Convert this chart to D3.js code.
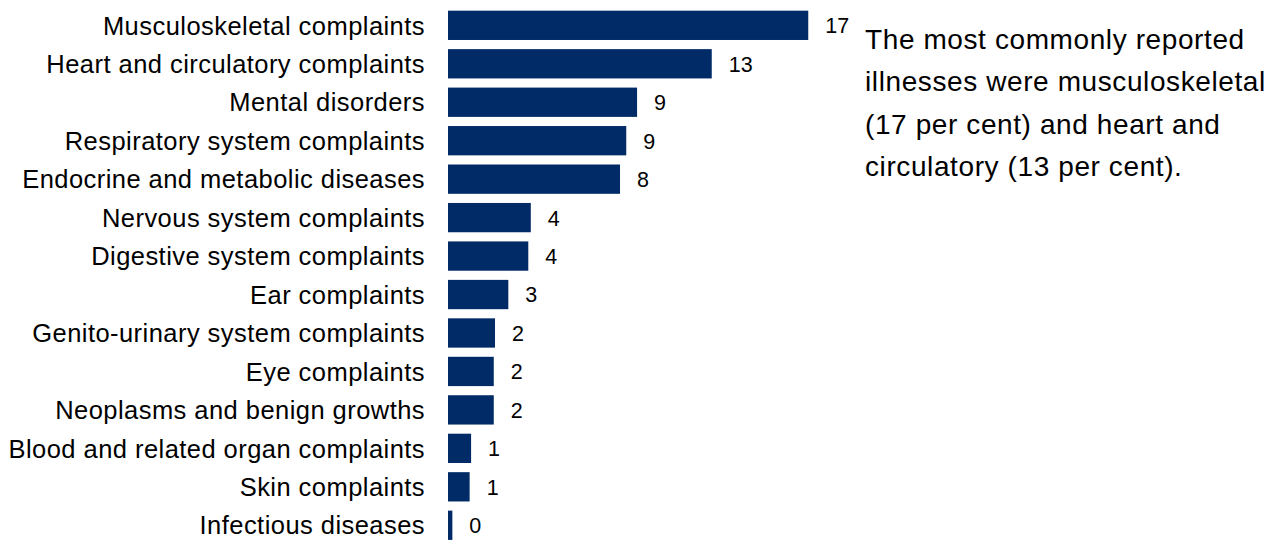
<!DOCTYPE html>
<html>
<head>
<meta charset="utf-8">
<script src="https://cdn.jsdelivr.net/npm/d3@7"></script>
<style>
  html, body { margin: 0; padding: 0; background: #fff; }
  svg { display: block; font-family: "Liberation Sans", Arial, sans-serif; }
</style>
</head>
<body>
<svg id="chart" width="1280" height="542"></svg>
<script>
// Illness categories, in display order (largest first)
const categories = [
  "Musculoskeletal complaints",
  "Heart and circulatory complaints",
  "Mental disorders",
  "Respiratory system complaints",
  "Endocrine and metabolic diseases",
  "Nervous system complaints",
  "Digestive system complaints",
  "Ear complaints",
  "Genito-urinary system complaints",
  "Eye complaints",
  "Neoplasms and benign growths",
  "Blood and related organ complaints",
  "Skin complaints",
  "Infectious diseases"
];

// Share of reported illnesses, per cent
const percentages = [17.32, 12.68, 9.09, 8.57, 8.27, 3.98, 3.86, 2.90, 2.26, 2.20, 2.20, 1.11, 1.04, 0.21];

// Commentary beside the chart, one entry per line
const noteLines = [
  "The most commonly reported",
  "illnesses were musculoskeletal",
  "(17 per cent) and heart and",
  "circulatory (13 per cent)."
];

const data = categories.map((c, i) => ({ category: c, value: percentages[i] }));

const svg = d3.select("#chart");
const barColor = "#002b66";

const x = d3.scaleLinear().domain([0, 20]).range([448, 864]);
const y = d3.scaleBand()
  .domain(categories)
  .range([6.1, 544.5])
  .paddingInner(0.238)
  .paddingOuter(0.119);

// Category axis on the left, no line or ticks
const yAxis = d3.axisLeft(y).tickSize(0).tickPadding(0);
const axisG = svg.append("g")
  .attr("transform", "translate(425,0)")
  .call(yAxis);
axisG.select(".domain").remove();
axisG.selectAll("text")
  .attr("font-family", "Liberation Sans, Arial, sans-serif")
  .attr("font-size", 25.5)
  .attr("letter-spacing", 0.45)
  .attr("fill", "#000")
  .attr("dy", "0.36em");

// Bars
svg.append("g").selectAll("rect")
  .data(data)
  .join("rect")
  .attr("x", x(0))
  .attr("y", d => y(d.category))
  .attr("width", d => x(d.value) - x(0))
  .attr("height", y.bandwidth())
  .attr("fill", barColor);

// Value labels at the bar ends
const fmt = d3.format(".0f");
svg.append("g").selectAll("text")
  .data(data)
  .join("text")
  .attr("x", d => x(d.value) + 17)
  .attr("y", d => y(d.category) + y.bandwidth() / 2)
  .attr("dy", "0.37em")
  .attr("font-size", 21.5)
  .attr("fill", "#000")
  .text(d => fmt(d.value));

// Commentary block
svg.append("g").selectAll("text")
  .data(noteLines)
  .join("text")
  .attr("x", 865)
  .attr("y", (d, i) => 48.8 + i * 42.5)
  .attr("font-size", 28)
  .attr("letter-spacing", 0.6)
  .attr("fill", "#000")
  .text(d => d);
</script>
</body>
</html>
